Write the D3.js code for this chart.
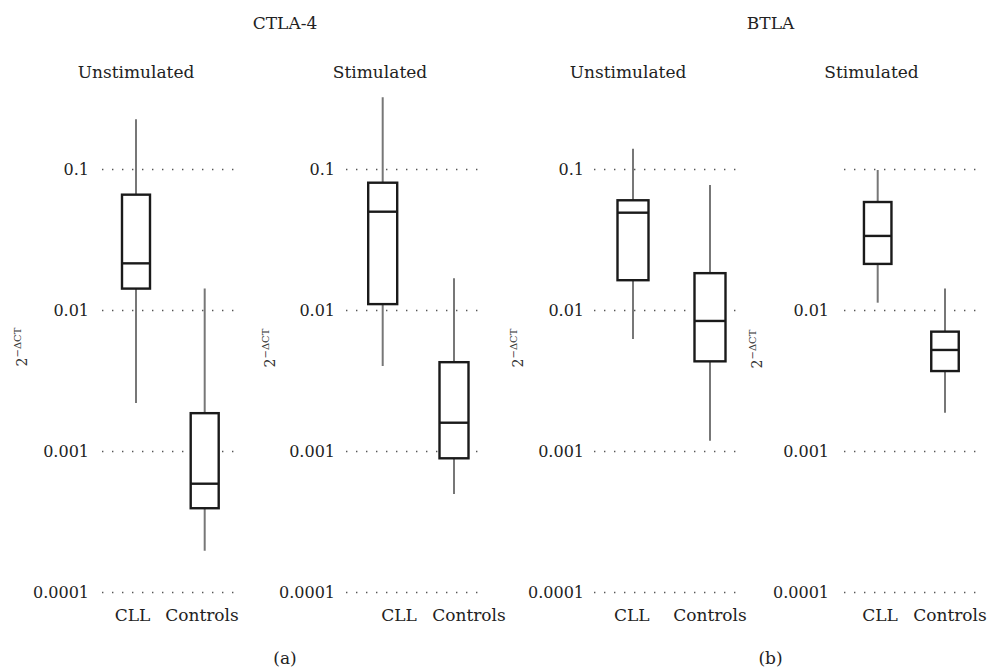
<!DOCTYPE html>
<html>
<head>
<meta charset="utf-8">
<script src="https://cdn.jsdelivr.net/npm/d3@7"></script>
<style>
  body { margin: 0; background: #fff; }
</style>
</head>
<body>
<script>
// Data
const genes = ["CTLA-4", "BTLA"];
const conditions = ["Unstimulated", "Stimulated"];
const groups = ["CLL", "Controls"];
const tickValues = [0.1, 0.01, 0.001, 0.0001];
const tickLabels = ["0.1", "0.01", "0.001", "0.0001"];
const panelLetters = ["(a)", "(b)"];

// [whisker low, q1, median, q3, whisker high] for CLL and Controls
const ctla4Unstim = [
  [0.00221, 0.0143, 0.0216, 0.0663, 0.227],
  [0.000198, 0.000396, 0.000591, 0.00187, 0.0143]
];
const ctla4Stim = [
  [0.00404, 0.0111, 0.0502, 0.0806, 0.325],
  [0.0005, 0.000895, 0.0016, 0.0043, 0.0169]
];
const btlaUnstim = [
  [0.00628, 0.0164, 0.0494, 0.0605, 0.1406],
  [0.00119, 0.00436, 0.00843, 0.0184, 0.0776]
];
const btlaStim = [
  [0.01136, 0.0214, 0.0338, 0.0588, 0.0992],
  [0.00188, 0.00372, 0.00525, 0.00708, 0.0143]
];

const width = 989;
const height = 671;
const serif = "'DejaVu Serif', serif";

// panel layout (pixel positions of each small plot)
const panels = [
  { gene: 0, cond: 0, data: ctla4Unstim, grid: [102, 240], box: [136, 204.7], boxW: 28,
    labels: [132.5, 202], tickEnd: 89, yLab: [27, 347], titleX: 136, showTop: true },
  { gene: 0, cond: 1, data: ctla4Stim, grid: [346, 482], box: [382.7, 454], boxW: 29,
    labels: [399, 469], tickEnd: 335, yLab: [275, 348], titleX: 380, showTop: true },
  { gene: 1, cond: 0, data: btlaUnstim, grid: [594, 742], box: [633, 710], boxW: 31,
    labels: [631.7, 710], tickEnd: 584, yLab: [523, 348], titleX: 628, showTop: true },
  { gene: 1, cond: 1, data: btlaStim, grid: [844, 982], box: [877.7, 945], boxW: 27.5,
    labels: [880, 950], tickEnd: 829, yLab: [762, 349], titleX: 871.5, showTop: false }
];

const svg = d3.select("body")
  .append("svg")
  .attr("width", width)
  .attr("height", height);

const y = d3.scaleLog().domain([0.0001, 0.1]).range([592.5, 169.5]);

// gene titles and panel letters
const geneX = [285, 770.5];
genes.forEach((g, i) => {
  svg.append("text")
    .attr("x", geneX[i])
    .attr("y", 29)
    .attr("text-anchor", "middle")
    .attr("font-family", serif)
    .attr("font-size", 17)
    .attr("fill", "#222")
    .text(g);
  svg.append("text")
    .attr("x", geneX[i])
    .attr("y", 664)
    .attr("text-anchor", "middle")
    .attr("font-family", serif)
    .attr("font-size", 17)
    .attr("fill", "#222")
    .text(panelLetters[i]);
});

panels.forEach((p) => {
  const g = svg.append("g");

  // condition title
  g.append("text")
    .attr("x", p.titleX)
    .attr("y", 78)
    .attr("text-anchor", "middle")
    .attr("font-family", serif)
    .attr("font-size", 17)
    .attr("fill", "#222")
    .text(conditions[p.cond]);

  // dotted grid lines
  g.selectAll(".grid")
    .data(tickValues)
    .enter()
    .append("line")
    .attr("x1", p.grid[0])
    .attr("x2", p.grid[1])
    .attr("y1", (d) => y(d))
    .attr("y2", (d) => y(d))
    .style("stroke", "#555")
    .style("stroke-width", 1.4)
    .style("stroke-dasharray", "1.4,8.6");

  // y axis labels
  const axis = d3.axisLeft(y)
    .tickValues(tickValues)
    .tickSize(0)
    .tickPadding(p.grid[0] - p.tickEnd)
    .tickFormat((d, i) => (i === 0 && !p.showTop ? "" : tickLabels[i]));
  const ax = g.append("g")
    .attr("transform", `translate(${p.grid[0]},0)`)
    .call(axis)
    .attr("font-family", serif)
    .attr("font-size", 16);
  ax.select(".domain").remove();
  ax.selectAll("text").attr("fill", "#222");

  // y axis title 2^-ΔCT
  const yl = g.append("text")
    .attr("transform", `translate(${p.yLab[0]},${p.yLab[1]}) rotate(-90)`)
    .attr("text-anchor", "middle")
    .attr("font-family", serif)
    .attr("font-size", 14)
    .attr("fill", "#333");
  yl.append("tspan").text("2");
  yl.append("tspan")
    .attr("dy", -6)
    .attr("font-size", 10)
    .text("\u2212\u0394CT");

  // box plots
  const x = d3.scalePoint().domain(groups).range(p.box);

  const boxes = g.selectAll(".box")
    .data(p.data)
    .enter()
    .append("g")
    .attr("transform", (d, i) => `translate(${x(groups[i])},0)`);

  boxes.append("line")
    .attr("x1", 0)
    .attr("x2", 0)
    .attr("y1", (d) => y(d[0]))
    .attr("y2", (d) => y(d[4]))
    .style("stroke", "#777")
    .style("stroke-width", 2);

  boxes.append("rect")
    .attr("x", -p.boxW / 2)
    .attr("width", p.boxW)
    .attr("y", (d) => y(d[3]))
    .attr("height", (d) => y(d[1]) - y(d[3]))
    .style("fill", "#fff")
    .style("stroke", "#1a1a1a")
    .style("stroke-width", 2.4);

  boxes.append("line")
    .attr("x1", -p.boxW / 2)
    .attr("x2", p.boxW / 2)
    .attr("y1", (d) => y(d[2]))
    .attr("y2", (d) => y(d[2]))
    .style("stroke", "#1a1a1a")
    .style("stroke-width", 2.4);

  // category labels
  groups.forEach((name, i) => {
    g.append("text")
      .attr("x", p.labels[i])
      .attr("y", 620.5)
      .attr("text-anchor", "middle")
      .attr("font-family", serif)
      .attr("font-size", 17)
      .attr("fill", "#222")
      .text(name);
  });
});
</script>
</body>
</html>
